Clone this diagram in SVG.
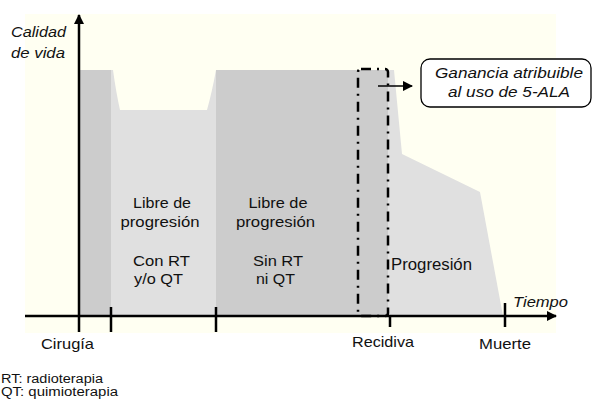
<svg xmlns="http://www.w3.org/2000/svg" width="594" height="407" viewBox="0 0 594 407">
  <defs>
    <style>
      text { font-family: "Liberation Sans", Arial, sans-serif; fill: #111; }
      .lbl { font-size: 14.5px; text-anchor: middle; }
      .it { font-style: italic; }
      .ax { stroke: #000; stroke-width: 2.5; fill: none; }
      .dark { fill: #cccccc; }
      .light { fill: #e0e0e0; }
    </style>
    <marker id="ah" viewBox="0 0 10 10" refX="9" refY="5" markerWidth="4" markerHeight="4" orient="auto" markerUnits="strokeWidth">
      <path d="M0,0 L10,5 L0,10 Z" fill="#000"/>
    </marker>
    <marker id="ah2" viewBox="0 0 10 10" refX="9" refY="5" markerWidth="7" markerHeight="7" orient="auto" markerUnits="strokeWidth">
      <path d="M0,0 L10,5 L0,10 Z" fill="#000"/>
    </marker>
  </defs>

  <rect id="background" x="25" y="14" width="531" height="319" fill="#fffff2"/>

  <g id="areas">
    <rect class="dark" x="79" y="70" width="32" height="246"/>
    <path class="light" d="M111,70 L113,70 Q116,92 120,110 L207,110 Q212,92 216,70 L216,316 L111,316 Z"/>
    <rect class="dark" x="216" y="70" width="172" height="246"/>
    <path class="light" d="M388,70 L394,70 L402,154 L480,192 L503,316 L388,316 Z"/>
  </g>

  <g id="axes">
    <line class="ax" x1="79" y1="332" x2="79" y2="15" marker-end="url(#ah)"/>
    <line class="ax" x1="25" y1="316" x2="556" y2="316" marker-end="url(#ah)"/>
    <line class="ax" x1="111" y1="307" x2="111" y2="332"/>
    <line class="ax" x1="216" y1="307" x2="216" y2="332"/>
    <line class="ax" x1="390" y1="316" x2="390" y2="327"/>
    <line class="ax" x1="505" y1="303" x2="505" y2="327"/>
  </g>

  <g id="gain-window">
    <rect x="358" y="69" width="30" height="247" rx="3" fill="none" stroke="#000" stroke-width="2.5" stroke-dasharray="10 6 2 6"/>
  </g>

  <g id="connectors">
    <line x1="378" y1="86" x2="412" y2="86" stroke="#000" stroke-width="1.5" marker-end="url(#ah2)"/>
  </g>

  <g id="callout">
    <rect x="421" y="59" width="170" height="48" rx="9" fill="#fff" stroke="#000" stroke-width="1.3"/>
    <text class="lbl it" x="509" y="78" font-size="14" textLength="148" lengthAdjust="spacingAndGlyphs">Ganancia atribuible</text>
    <text class="lbl it" x="509" y="97" font-size="14" textLength="122" lengthAdjust="spacingAndGlyphs">al uso de 5-ALA</text>
  </g>

  <g id="y-label">
    <text class="it" x="11" y="37" font-size="14" textLength="55" lengthAdjust="spacingAndGlyphs">Calidad</text>
    <text class="it" x="11" y="58" font-size="14" textLength="54" lengthAdjust="spacingAndGlyphs">de vida</text>
  </g>

  <g id="phase-1">
    <text class="lbl" x="162" y="208" textLength="58" lengthAdjust="spacingAndGlyphs">Libre de</text>
    <text class="lbl" x="160" y="227" textLength="79" lengthAdjust="spacingAndGlyphs">progresión</text>
    <text class="lbl" x="161.5" y="266" textLength="57" lengthAdjust="spacingAndGlyphs">Con RT</text>
    <text class="lbl" x="158.5" y="284" textLength="49" lengthAdjust="spacingAndGlyphs">y/o QT</text>
  </g>

  <g id="phase-2">
    <text class="lbl" x="278" y="208" textLength="59" lengthAdjust="spacingAndGlyphs">Libre de</text>
    <text class="lbl" x="275.5" y="227" textLength="79" lengthAdjust="spacingAndGlyphs">progresión</text>
    <text class="lbl" x="278" y="266" textLength="50" lengthAdjust="spacingAndGlyphs">Sin RT</text>
    <text class="lbl" x="275.5" y="284" textLength="39" lengthAdjust="spacingAndGlyphs">ni QT</text>
  </g>

  <g id="phase-3">
    <text x="391" y="270" font-size="16" textLength="81" lengthAdjust="spacingAndGlyphs">Progresión</text>
  </g>

  <g id="x-label">
    <text class="it" x="513" y="307" font-size="15" textLength="55" lengthAdjust="spacingAndGlyphs">Tiempo</text>
  </g>

  <g id="events">
    <text class="lbl" x="67.5" y="349" textLength="53" lengthAdjust="spacingAndGlyphs">Cirugía</text>
    <text class="lbl" x="383" y="347" textLength="62" lengthAdjust="spacingAndGlyphs">Recidiva</text>
    <text class="lbl" x="505" y="348.5" textLength="52" lengthAdjust="spacingAndGlyphs">Muerte</text>
  </g>

  <g id="legend">
    <text x="1" y="383" font-size="12" textLength="102" lengthAdjust="spacingAndGlyphs">RT: radioterapia</text>
    <text x="1" y="396" font-size="12" textLength="117" lengthAdjust="spacingAndGlyphs">QT: quimioterapia</text>
  </g>
</svg>
